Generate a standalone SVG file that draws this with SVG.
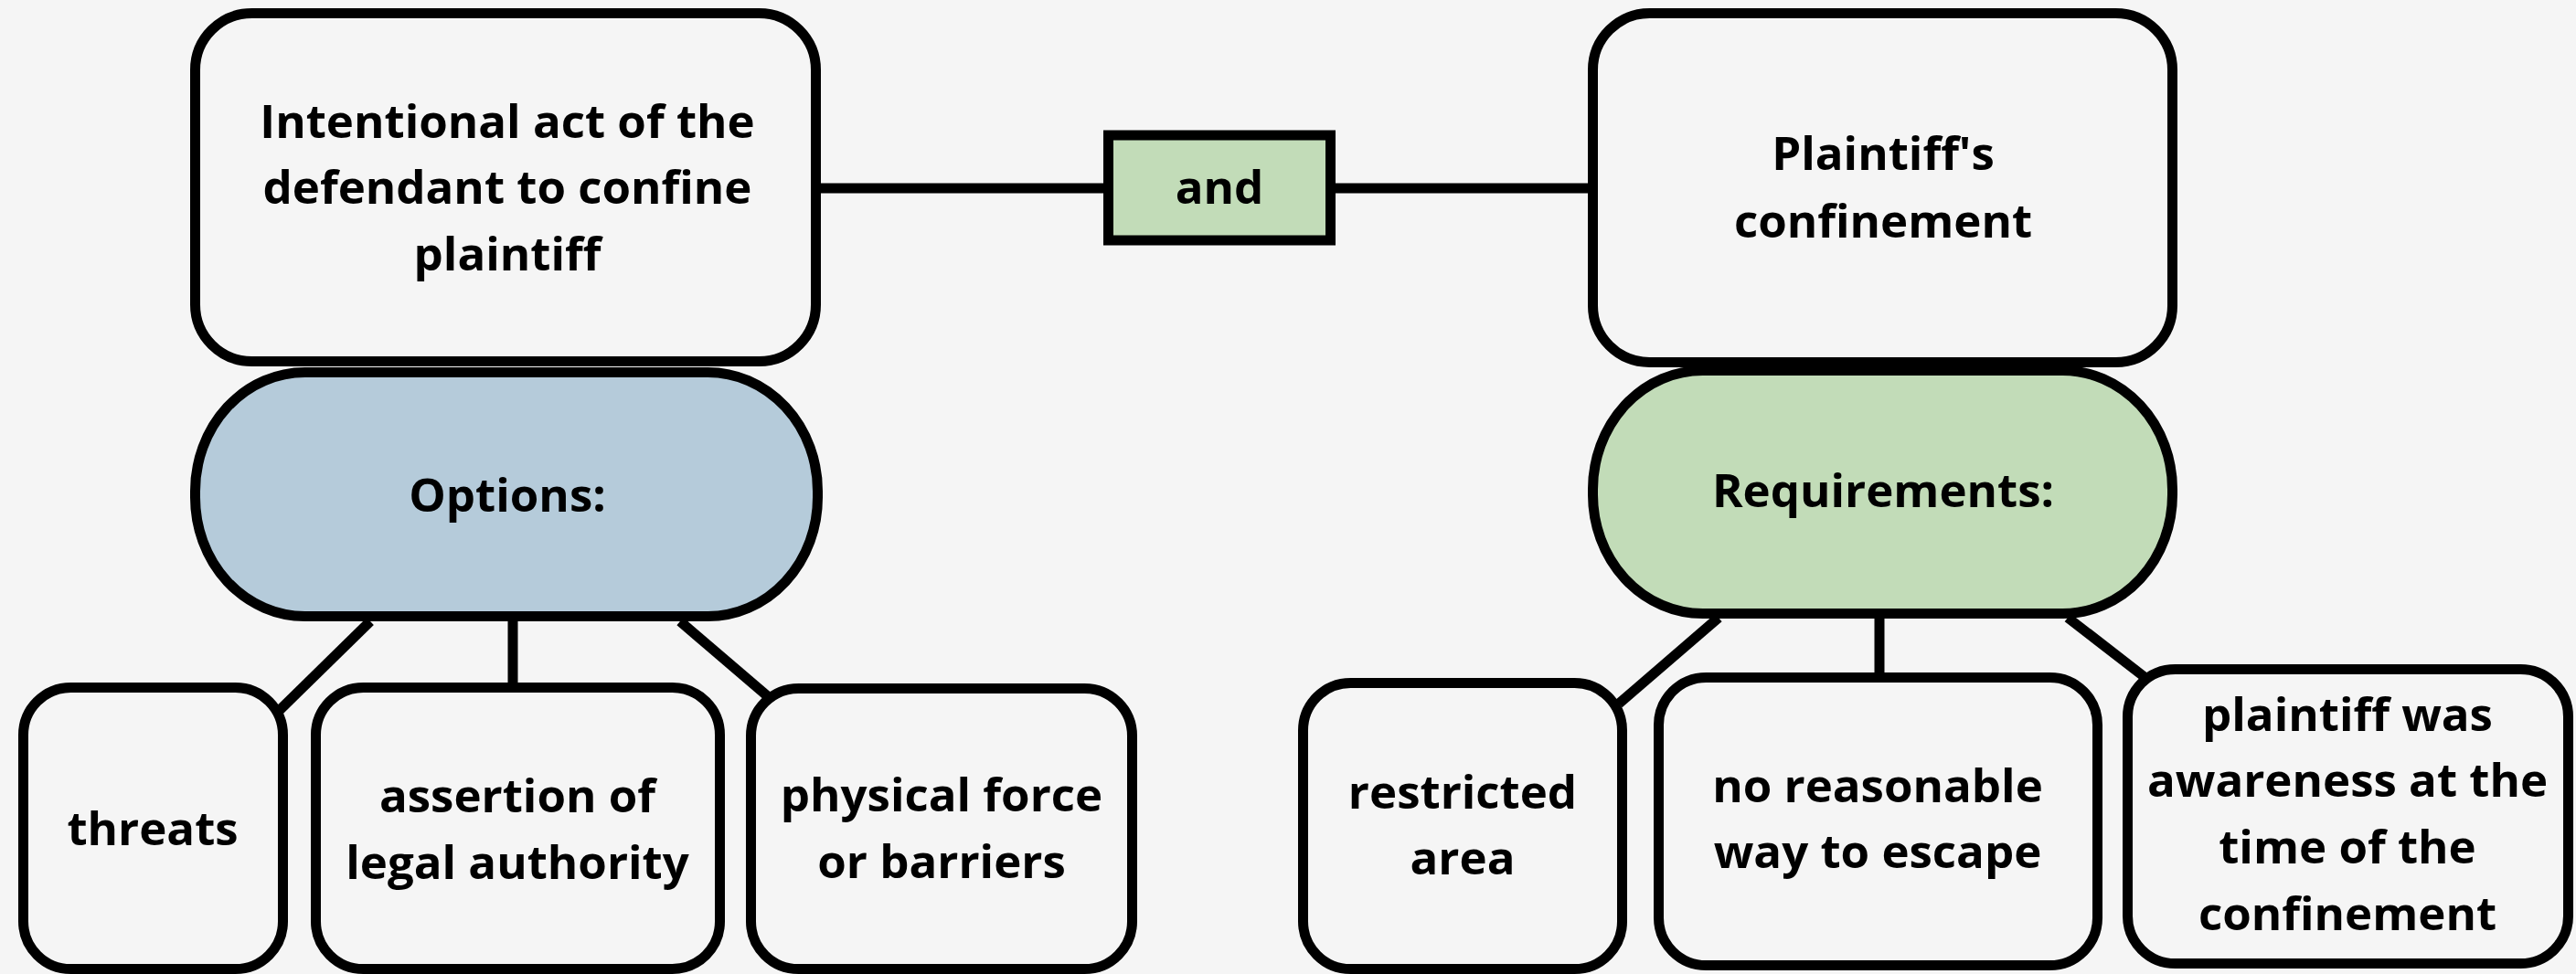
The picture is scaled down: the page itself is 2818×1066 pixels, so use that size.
<svg xmlns="http://www.w3.org/2000/svg" width="2818" height="1066" viewBox="0 0 2818 1066">
<style>
.box{fill:#f5f5f5;stroke:#000;stroke-width:11}
.blue{fill:#b5cbda;stroke:#000;stroke-width:11}
.green{fill:#c2dcb8;stroke:#000;stroke-width:11}
.t{font-family:"Open Sans","Liberation Sans",Arial,sans-serif;font-weight:700;font-size:51px;fill:#000;text-anchor:middle}
.c line{stroke:#000;stroke-width:11;stroke-linecap:butt}
</style>
<rect x="0" y="0" width="2818" height="1066" fill="#f5f5f5"/>
<g class="c" id="connectors">
<line x1="895" y1="206" x2="1212" y2="206"/>
<line x1="1456" y1="206" x2="1740" y2="206"/>
<line x1="405" y1="680" x2="303" y2="780"/>
<line x1="561" y1="678" x2="561" y2="750"/>
<line x1="744" y1="680" x2="842" y2="764"/>
<line x1="1880" y1="676" x2="1771" y2="770"/>
<line x1="2056" y1="676" x2="2056" y2="740"/>
<line x1="2262" y1="676" x2="2346" y2="741"/>
</g>
<g id="n-intentional">
<rect class="box" x="213.5" y="14.5" width="679" height="381" rx="62" ry="62"/>
<text class="t" x="555" y="151">Intentional act of the</text>
<text class="t" x="555" y="223">defendant to confine</text>
<text class="t" x="555" y="296">plaintiff</text>
</g>
<g id="n-and">
<rect class="green" x="1212.5" y="148" width="243" height="115"/>
<text class="t" x="1334" y="223">and</text>
</g>
<g id="n-plaintiffs-confinement">
<rect class="box" x="1742.5" y="14.5" width="634" height="382" rx="62" ry="62"/>
<text class="t" x="2060" y="186">Plaintiff's</text>
<text class="t" x="2060" y="260">confinement</text>
</g>
<g id="n-options">
<rect class="blue" x="213.5" y="407.5" width="681" height="267" rx="120" ry="130"/>
<text class="t" x="555" y="560">Options:</text>
</g>
<g id="n-requirements">
<rect class="green" x="1742.5" y="405.5" width="634" height="266" rx="120" ry="130"/>
<text class="t" x="2060" y="555">Requirements:</text>
</g>
<g id="n-threats">
<rect class="box" x="25.5" y="752.5" width="284" height="308" rx="52" ry="52"/>
<text class="t" x="167" y="925">threats</text>
</g>
<g id="n-assertion">
<rect class="box" x="345.5" y="752.5" width="442" height="308" rx="52" ry="52"/>
<text class="t" x="566" y="889">assertion of</text>
<text class="t" x="566" y="962">legal authority</text>
</g>
<g id="n-physical">
<rect class="box" x="821.5" y="753.5" width="417" height="307" rx="52" ry="52"/>
<text class="t" x="1030" y="888">physical force</text>
<text class="t" x="1030" y="961">or barriers</text>
</g>
<g id="n-restricted">
<rect class="box" x="1425.5" y="747.5" width="349" height="313" rx="52" ry="52"/>
<text class="t" x="1600" y="885">restricted</text>
<text class="t" x="1600" y="957">area</text>
</g>
<g id="n-no-escape">
<rect class="box" x="1814.5" y="741.5" width="480" height="315" rx="52" ry="52"/>
<text class="t" x="2054" y="878">no reasonable</text>
<text class="t" x="2054" y="950">way to escape</text>
</g>
<g id="n-awareness">
<rect class="box" x="2327.5" y="732.5" width="482" height="322" rx="52" ry="52"/>
<text class="t" x="2568" y="800">plaintiff was</text>
<text class="t" x="2568" y="872">awareness at the</text>
<text class="t" x="2568" y="945">time of the</text>
<text class="t" x="2568" y="1018">confinement</text>
</g>
</svg>
